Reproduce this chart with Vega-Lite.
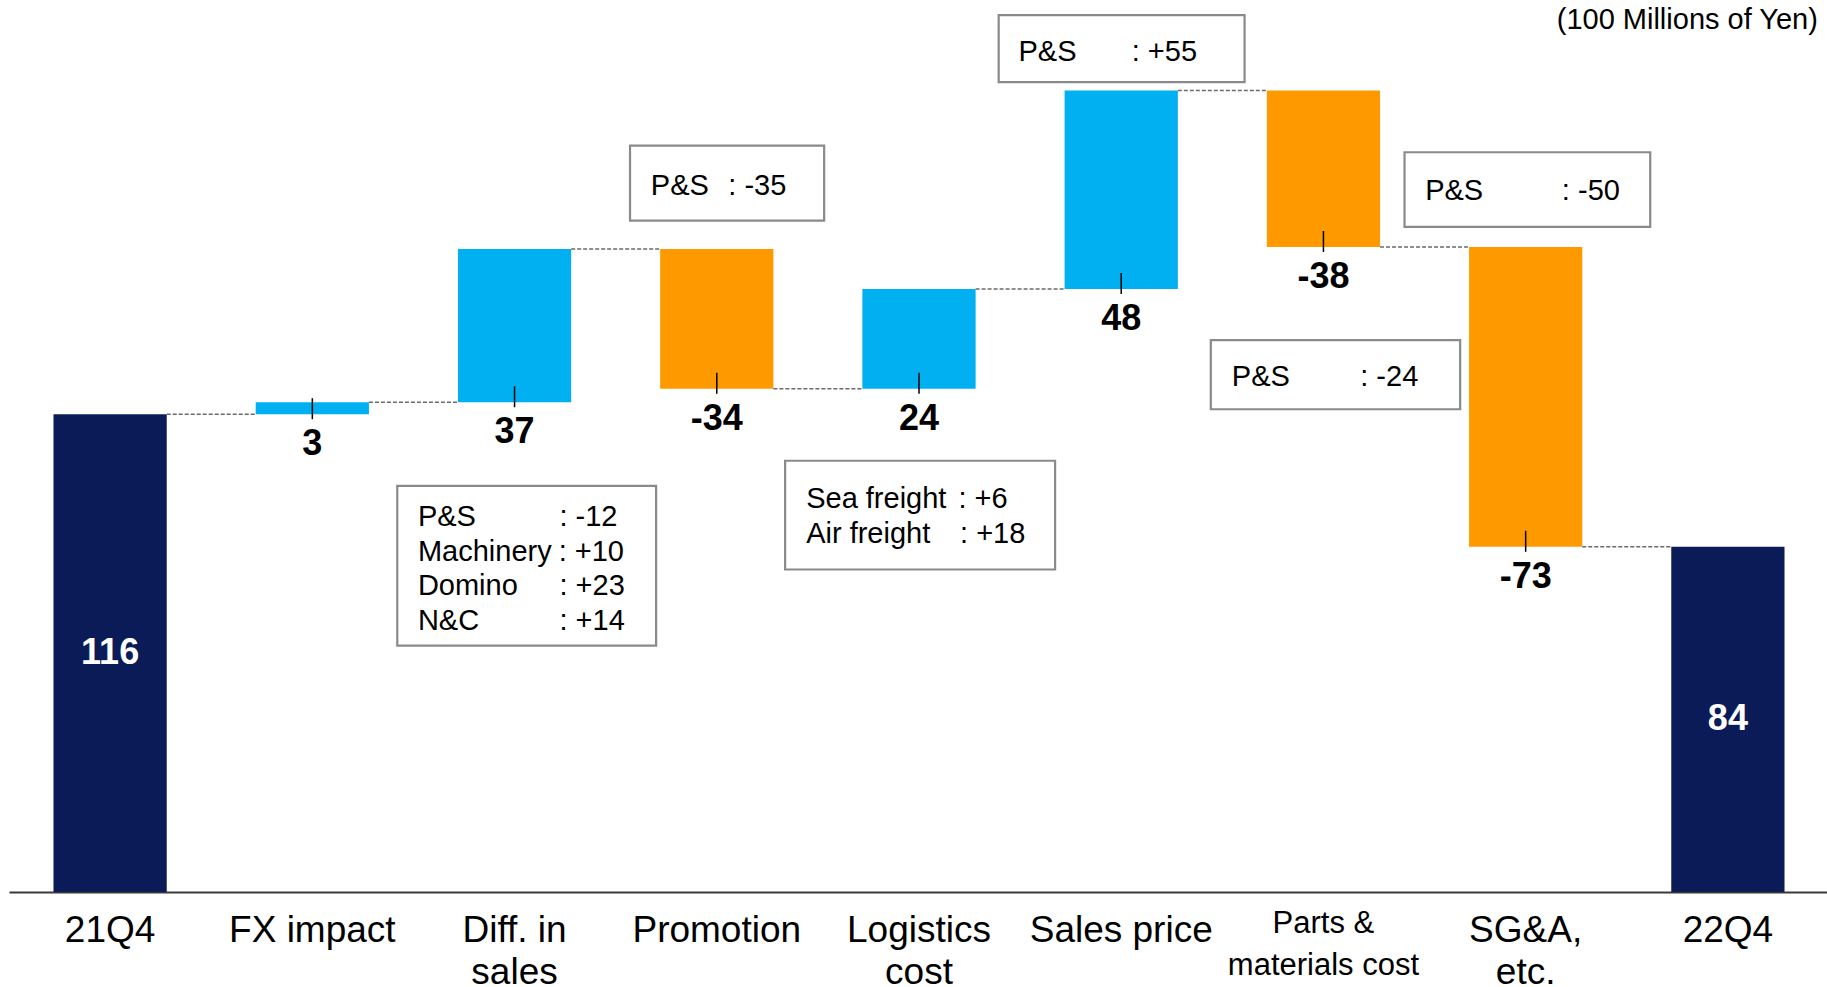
{
  "$schema": "https://vega.github.io/schema/vega-lite/v6.json",
  "width": 1820,
  "height": 892,
  "autosize": {"type": "none"},
  "padding": {"left": 9, "top": 0, "right": 0, "bottom": 95},
  "background": "white",
  "config": {"view": {"stroke": null}, "font": "Liberation Sans", "text": {"font": "Liberation Sans"}},
  "datasets": {
    "steps": [
      {"cat": "21Q4", "start": 0, "end": 116, "type": "total", "label": "116", "next": "FX impact"},
      {"cat": "FX impact", "start": 116, "end": 118.9, "type": "up", "label": "3", "next": "Diff. in|sales"},
      {"cat": "Diff. in|sales", "start": 118.9, "end": 156.1, "type": "up", "label": "37", "next": "Promotion"},
      {"cat": "Promotion", "start": 156.1, "end": 122.2, "type": "down", "label": "-34", "next": "Logistics|cost"},
      {"cat": "Logistics|cost", "start": 122.2, "end": 146.4, "type": "up", "label": "24", "next": "Sales price"},
      {"cat": "Sales price", "start": 146.4, "end": 194.6, "type": "up", "label": "48", "next": "Parts &|materials cost"},
      {"cat": "Parts &|materials cost", "start": 194.6, "end": 156.6, "type": "down", "label": "-38", "next": "SG&A,|etc."},
      {"cat": "SG&A,|etc.", "start": 156.6, "end": 83.8, "type": "down", "label": "-73", "next": "22Q4"},
      {"cat": "22Q4", "start": 0, "end": 83.8, "type": "total", "label": "84", "next": null}
    ],
    "boxes": [
      {"x1": 3.071, "x2": 4.031, "y1": 181.2, "y2": 163.0},
      {"x1": 4.894, "x2": 6.110, "y1": 212.9, "y2": 196.6},
      {"x1": 6.901, "x2": 8.116, "y1": 179.6, "y2": 161.5},
      {"x1": 5.943, "x2": 7.176, "y1": 134.0, "y2": 117.2},
      {"x1": 1.920, "x2": 3.200, "y1": 98.6, "y2": 59.8},
      {"x1": 3.838, "x2": 5.173, "y1": 104.7, "y2": 78.3}
    ],
    "notes": [
      {"x": 3.174, "y": 169.2, "text": "P&S"},
      {"x": 3.557, "y": 169.2, "text": ": -35"},
      {"x": 4.992, "y": 201.7, "text": "P&S"},
      {"x": 5.552, "y": 201.7, "text": ": +55"},
      {"x": 7.003, "y": 168.0, "text": "P&S"},
      {"x": 7.679, "y": 168.0, "text": ": -50"},
      {"x": 6.047, "y": 122.8, "text": "P&S"},
      {"x": 6.682, "y": 122.8, "text": ": -24"},
      {"x": 2.022, "y": 88.9, "text": "P&S"},
      {"x": 2.722, "y": 88.9, "text": ": -12"},
      {"x": 2.022, "y": 80.4, "text": "Machinery"},
      {"x": 2.718, "y": 80.4, "text": ": +10"},
      {"x": 2.022, "y": 72.1, "text": "Domino"},
      {"x": 2.722, "y": 72.1, "text": ": +23"},
      {"x": 2.022, "y": 63.6, "text": "N&C"},
      {"x": 2.722, "y": 63.6, "text": ": +14"},
      {"x": 3.942, "y": 93.2, "text": "Sea freight"},
      {"x": 4.695, "y": 93.2, "text": ": +6"},
      {"x": 3.942, "y": 84.8, "text": "Air freight"},
      {"x": 4.703, "y": 84.8, "text": ": +18"}
    ],
    "unit": [
      {"x": 8.945, "y": 209.4, "text": "(100 Millions of Yen)"}
    ]
  },
  "resolve": {"scale": {"x": "independent"}},
  "layer": [
    {
      "data": {"name": "steps"},
      "layer": [
        {
          "mark": {"type": "bar"},
          "encoding": {
            "x": {
              "field": "cat", "type": "nominal", "sort": null,
              "scale": {"domain": ["21Q4", "FX impact", "Diff. in|sales", "Promotion", "Logistics|cost", "Sales price", "Parts &|materials cost", "SG&A,|etc.", "22Q4"], "paddingInner": 0.44, "paddingOuter": 0.22},
              "axis": {
                "title": null,
                "labelExpr": "split(datum.label, '|')",
                "labelAngle": 0,
                "ticks": false,
                "tickSize": 0,
                "labelBaseline": "top",
                "labelPadding": {"condition": {"test": "datum.value == 'Parts &|materials cost'", "value": 16}, "value": 20},
                "labelFontSize": {"condition": {"test": "datum.value == 'Parts &|materials cost'", "value": 31}, "value": 37},
                "labelLineHeight": 42,
                "labelColor": "black",
                "labelFont": "Liberation Sans",
                "labelLimit": 0,
                "labelOverlap": false,
                "labelBound": false,
                "domainColor": "#3a3a3a",
                "domainWidth": 2,
                "grid": false
              }
            },
            "y": {"field": "start", "type": "quantitative", "scale": {"domain": [0, 216.56], "nice": false}, "axis": null},
            "y2": {"field": "end"},
            "color": {"field": "type", "type": "nominal", "scale": {"domain": ["total", "up", "down"], "range": ["#0b1b57", "#00b0f0", "#ff9900"]}, "legend": null}
          }
        },
        {
          "transform": [{"filter": "datum.next != null"}],
          "mark": {"type": "rule", "color": "#6a6a6a", "strokeWidth": 1.5, "strokeDash": [4, 2], "xOffset": 56.6, "x2Offset": -56.6},
          "encoding": {
            "x": {"field": "cat", "type": "nominal", "sort": null, "scale": {"domain": ["21Q4", "FX impact", "Diff. in|sales", "Promotion", "Logistics|cost", "Sales price", "Parts &|materials cost", "SG&A,|etc.", "22Q4"]}},
            "x2": {"field": "next"},
            "y": {"field": "end", "type": "quantitative"}
          }
        },
        {
          "transform": [{"filter": "datum.type == 'up'"}],
          "mark": {"type": "rule", "color": "black", "strokeWidth": 1.5, "yOffset": 5, "y2Offset": -16},
          "encoding": {
            "x": {"field": "cat", "type": "nominal", "sort": null, "scale": {"domain": ["21Q4", "FX impact", "Diff. in|sales", "Promotion", "Logistics|cost", "Sales price", "Parts &|materials cost", "SG&A,|etc.", "22Q4"]}},
            "y": {"field": "start", "type": "quantitative"},
            "y2": {"field": "start"}
          }
        },
        {
          "transform": [{"filter": "datum.type == 'down'"}],
          "mark": {"type": "rule", "color": "black", "strokeWidth": 1.5, "yOffset": 5, "y2Offset": -16},
          "encoding": {
            "x": {"field": "cat", "type": "nominal", "sort": null, "scale": {"domain": ["21Q4", "FX impact", "Diff. in|sales", "Promotion", "Logistics|cost", "Sales price", "Parts &|materials cost", "SG&A,|etc.", "22Q4"]}},
            "y": {"field": "end", "type": "quantitative"},
            "y2": {"field": "end"}
          }
        },
        {
          "transform": [{"filter": "datum.type == 'up'"}],
          "mark": {"type": "text", "fontSize": 36, "fontWeight": "bold", "color": "black", "baseline": "alphabetic", "dy": 41, "font": "Liberation Sans"},
          "encoding": {
            "x": {"field": "cat", "type": "nominal", "sort": null, "scale": {"domain": ["21Q4", "FX impact", "Diff. in|sales", "Promotion", "Logistics|cost", "Sales price", "Parts &|materials cost", "SG&A,|etc.", "22Q4"]}},
            "y": {"field": "start", "type": "quantitative"},
            "text": {"field": "label"}
          }
        },
        {
          "transform": [{"filter": "datum.type == 'down'"}],
          "mark": {"type": "text", "fontSize": 36, "fontWeight": "bold", "color": "black", "baseline": "alphabetic", "dy": 41, "font": "Liberation Sans"},
          "encoding": {
            "x": {"field": "cat", "type": "nominal", "sort": null, "scale": {"domain": ["21Q4", "FX impact", "Diff. in|sales", "Promotion", "Logistics|cost", "Sales price", "Parts &|materials cost", "SG&A,|etc.", "22Q4"]}},
            "y": {"field": "end", "type": "quantitative"},
            "text": {"field": "label"}
          }
        },
        {
          "transform": [
            {"filter": "datum.type == 'total'"},
            {"fold": ["start", "end"], "as": ["edge", "val"]},
            {"aggregate": [{"op": "mean", "field": "val", "as": "mid"}], "groupby": ["cat", "label"]}
          ],
          "mark": {"type": "text", "fontSize": 36, "fontWeight": "bold", "color": "white", "baseline": "middle", "font": "Liberation Sans"},
          "encoding": {
            "x": {"field": "cat", "type": "nominal", "sort": null, "scale": {"domain": ["21Q4", "FX impact", "Diff. in|sales", "Promotion", "Logistics|cost", "Sales price", "Parts &|materials cost", "SG&A,|etc.", "22Q4"]}},
            "y": {"field": "mid", "type": "quantitative"},
            "text": {"field": "label"}
          }
        }
      ]
    },
    {
      "layer": [
        {
          "data": {"name": "boxes"},
          "mark": {"type": "rect", "fill": "white", "stroke": "#8a8a8a", "strokeWidth": 2.2},
          "encoding": {
            "x": {"field": "x1", "type": "quantitative", "scale": {"domain": [0, 9], "nice": false, "zero": false}, "axis": null},
            "x2": {"field": "x2"},
            "y": {"field": "y1", "type": "quantitative"},
            "y2": {"field": "y2"}
          }
        },
        {
          "data": {"name": "notes"},
          "mark": {"type": "text", "fontSize": 29, "color": "black", "align": "left", "baseline": "alphabetic", "font": "Liberation Sans"},
          "encoding": {
            "x": {"field": "x", "type": "quantitative", "scale": {"domain": [0, 9], "nice": false, "zero": false}, "axis": null},
            "y": {"field": "y", "type": "quantitative"},
            "text": {"field": "text"}
          }
        },
        {
          "data": {"name": "unit"},
          "mark": {"type": "text", "fontSize": 29, "color": "black", "align": "right", "baseline": "alphabetic", "font": "Liberation Sans"},
          "encoding": {
            "x": {"field": "x", "type": "quantitative", "scale": {"domain": [0, 9], "nice": false, "zero": false}, "axis": null},
            "y": {"field": "y", "type": "quantitative"},
            "text": {"field": "text"}
          }
        }
      ]
    }
  ]
}
